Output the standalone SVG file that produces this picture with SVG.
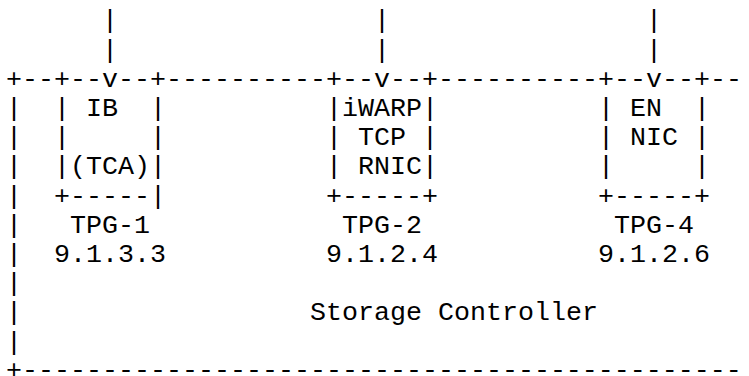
<svg xmlns="http://www.w3.org/2000/svg" width="749" height="376" viewBox="0 0 749 376">
<style>
text{font-family:'Courier New','Nimbus Mono PS','Nimbus Mono L',FreeMono,'Liberation Mono',monospace;font-size:26.667px;fill:#000;white-space:pre}
</style>
<rect width="749" height="376" fill="#fff"/>
<g id="connectors">
<text x="102" y="28.4">|</text><text x="374" y="28.4">|</text><text x="646" y="28.4">|</text>
<text x="102" y="57.6">|</text><text x="374" y="57.6">|</text><text x="646" y="57.6">|</text>
<text x="102" y="86.8">v</text><text x="374" y="86.8">v</text><text x="646" y="86.8">v</text>
</g>
<g id="storage-controller">
<text x="6" y="86.8" xml:space="preserve">+--</text>
<text x="166" y="86.8">----------</text>
<text x="438" y="86.8">----------</text>
<text x="710" y="86.8">--</text>
<text x="6" y="116">|</text><text x="6" y="145.2">|</text><text x="6" y="174.4">|</text>
<text x="6" y="203.6">|</text><text x="6" y="232.8">|</text><text x="6" y="262">|</text>
<text x="6" y="291.2">|</text><text x="6" y="320.4">|</text><text x="6" y="349.6">|</text>
<text x="6" y="377.5">+---------------------------------------------</text>
<text x="310" y="320.4" xml:space="preserve">Storage Controller</text>
</g>
<g id="tpg-1">
<text x="54" y="86.8">+--</text><text x="118" y="86.8">--+</text>
<text x="54" y="116" xml:space="preserve">| IB  |</text>
<text x="54" y="145.2" xml:space="preserve">|     |</text>
<text x="54" y="174.4" xml:space="preserve">|(TCA)|</text>
<text x="54" y="203.6" xml:space="preserve">+-----|</text>
<text x="70" y="232.8">TPG-1</text>
<text x="54" y="262">9.1.3.3</text>
</g>
<g id="tpg-2">
<text x="326" y="86.8">+--</text><text x="390" y="86.8">--+</text>
<text x="326" y="116" xml:space="preserve">|iWARP|</text>
<text x="326" y="145.2" xml:space="preserve">| TCP |</text>
<text x="326" y="174.4" xml:space="preserve">| RNIC|</text>
<text x="326" y="203.6" xml:space="preserve">+-----+</text>
<text x="342" y="232.8">TPG-2</text>
<text x="326" y="262">9.1.2.4</text>
</g>
<g id="tpg-4">
<text x="598" y="86.8">+--</text><text x="662" y="86.8">--+</text>
<text x="598" y="116" xml:space="preserve">| EN  |</text>
<text x="598" y="145.2" xml:space="preserve">| NIC |</text>
<text x="598" y="174.4" xml:space="preserve">|     |</text>
<text x="598" y="203.6" xml:space="preserve">+-----+</text>
<text x="614" y="232.8">TPG-4</text>
<text x="598" y="262">9.1.2.6</text>
</g>
</svg>
